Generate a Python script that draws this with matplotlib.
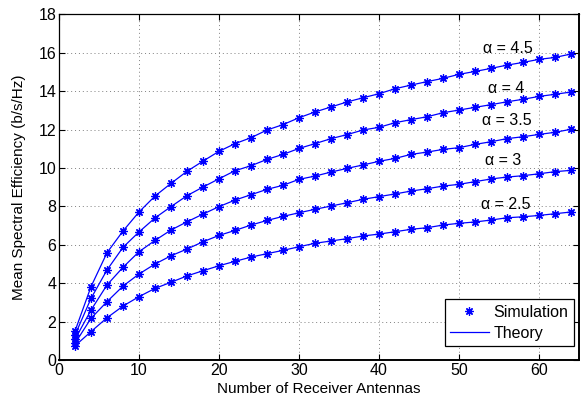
import numpy as np
import matplotlib
matplotlib.use("Agg")
import matplotlib.pyplot as plt

plt.rcParams['font.family'] = ['Liberation Sans', 'DejaVu Sans']

# number of receiver antennas
n_rx = np.arange(2, 65, 2)

# mean spectral efficiency, one list per path-loss exponent
se_45 = [1.51, 3.82, 5.59, 6.72, 7.71, 8.54, 9.20, 9.83, 10.36, 10.87, 11.27, 11.58,
         11.98, 12.26, 12.62, 12.92, 13.18, 13.44, 13.66, 13.87, 14.13, 14.32, 14.50,
         14.67, 14.88, 15.03, 15.19, 15.36, 15.50, 15.66, 15.76, 15.94]
se_40 = [1.30, 3.21, 4.69, 5.87, 6.67, 7.40, 7.99, 8.56, 9.01, 9.44, 9.86, 10.12,
         10.45, 10.71, 11.02, 11.27, 11.53, 11.74, 11.98, 12.12, 12.36, 12.52, 12.67,
         12.88, 13.02, 13.16, 13.30, 13.45, 13.58, 13.73, 13.84, 13.96]
se_35 = [1.08, 2.60, 3.91, 4.83, 5.64, 6.23, 6.77, 7.20, 7.60, 7.99, 8.33, 8.61,
         8.89, 9.10, 9.41, 9.58, 9.79, 9.98, 10.16, 10.35, 10.50, 10.71, 10.83,
         10.97, 11.06, 11.23, 11.37, 11.53, 11.63, 11.75, 11.86, 12.02]
se_30 = [0.87, 2.17, 3.04, 3.85, 4.48, 5.00, 5.43, 5.78, 6.16, 6.49, 6.75, 7.03,
         7.27, 7.48, 7.67, 7.85, 8.02, 8.19, 8.37, 8.51, 8.65, 8.80, 8.92,
         9.06, 9.15, 9.29, 9.43, 9.53, 9.60, 9.70, 9.81, 9.88]
se_25 = [0.74, 1.48, 2.20, 2.81, 3.30, 3.73, 4.05, 4.38, 4.65, 4.91, 5.14, 5.36,
         5.54, 5.71, 5.90, 6.08, 6.20, 6.32, 6.46, 6.56, 6.68, 6.81, 6.89,
         7.03, 7.12, 7.19, 7.29, 7.41, 7.46, 7.53, 7.62, 7.71]

curves = [se_45, se_40, se_35, se_30, se_25]
labels = ['α = 4.5', 'α = 4', 'α = 3.5', 'α = 3', 'α = 2.5']
label_xy = [(56.1, 16.25), (55.9, 14.15), (56.0, 12.5), (55.5, 10.4), (55.9, 8.1)]

# matlab style '*' marker: 8 armed asterisk
ast = (8, 2, 0)

fig = plt.figure(figsize=(5.82, 4.01), dpi=100)
ax = fig.add_axes([0.1014, 0.1022, 0.8934, 0.8618])

for i, se in enumerate(curves):
    ax.plot(n_rx, se, linestyle='none', marker=ast, color='#0000ff', markersize=6,
            markeredgewidth=0.9, label='Simulation' if i == 0 else None)
    ax.plot(n_rx, se, '-', color='#0000ff', linewidth=0.9,
            label='Theory' if i == 0 else None)

for txt, (tx, ty) in zip(labels, label_xy):
    ax.text(tx, ty, txt, ha='center', va='center', fontsize=11.5)

ax.set_xlim(0, 65)
ax.set_ylim(0, 18)
ax.set_xticks(np.arange(0, 61, 10))
ax.set_yticks(np.arange(0, 19, 2))
ax.tick_params(direction='in', top=True, right=True, labelsize=11.5, length=4, pad=2)
ax.grid(True, linestyle=(0, (1, 3)), color='#808080', linewidth=0.7)
for s in ax.spines.values():
    s.set_linewidth(0.9)
ax.spines['right'].set_linewidth(1.4)
ax.spines['bottom'].set_linewidth(1.4)

ax.set_xlabel('Number of Receiver Antennas', fontsize=11, labelpad=3)
ax.set_ylabel('Mean Spectral Efficiency (b/s/Hz)', fontsize=11, labelpad=9)

leg = ax.legend(loc='lower right', bbox_to_anchor=(0.99, 0.04), fontsize=11.5,
                fancybox=False, framealpha=1, edgecolor='black', handlelength=2.4,
                borderpad=0.35, labelspacing=0.35, handletextpad=0.3, borderaxespad=0)
leg.get_frame().set_linewidth(0.9)

fig.savefig('out.png', dpi=100)
